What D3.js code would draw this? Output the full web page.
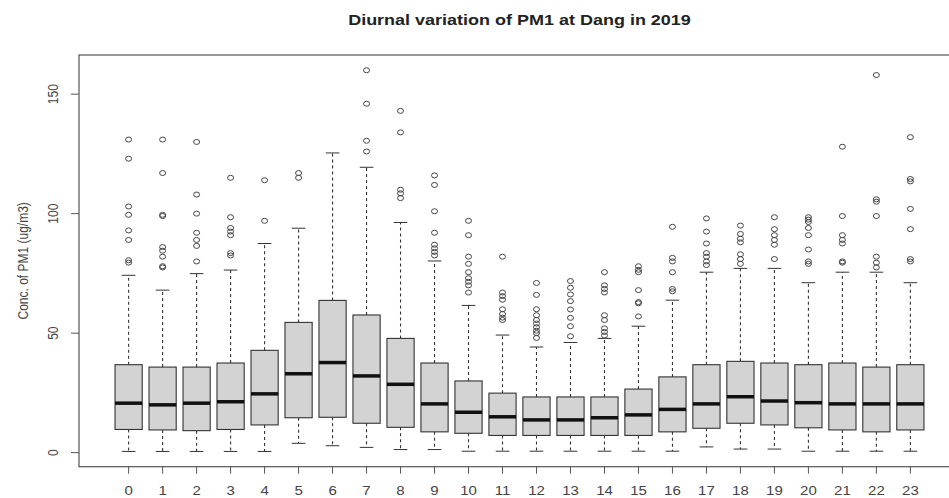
<!DOCTYPE html>
<html>
<head>
<meta charset="utf-8">
<script src="https://cdn.jsdelivr.net/npm/d3@7"></script>
<style>
  html, body { margin: 0; padding: 0; background: #fff; }
  svg { display: block; font-family: "Liberation Sans", Arial, sans-serif; }
</style>
</head>
<body>
<svg id="chart" width="949" height="498"></svg>
<script>
const hours = ["0","1","2","3","4","5","6","7","8","9","10","11","12","13","14","15","16","17","18","19","20","21","22","23"];
const lowerWhisker = [0.5,0.5,0.5,0.5,0.5,3.9,2.9,2.2,1.3,1.3,0.6,0.6,0.6,0.6,0.6,0.6,0.6,2.4,1.5,1.5,0.6,0.6,0.6,0.6];
const q1 = [9.7,9.5,9.2,9.7,11.6,14.6,14.8,12.3,10.6,8.7,8.1,7.2,7.2,7.2,7.2,7.2,8.7,10.2,12.3,11.6,10.4,9.5,8.7,9.5];
const medians = [20.7,20.0,20.7,21.3,24.6,33.0,37.7,32.1,28.6,20.4,16.9,15.0,13.7,13.7,14.6,15.8,18.1,20.4,23.4,21.6,20.9,20.4,20.4,20.4];
const q3 = [36.8,35.8,35.8,37.5,42.8,54.5,63.7,57.6,47.8,37.5,30.0,24.9,23.3,23.3,23.3,26.6,31.7,36.8,38.2,37.5,36.8,37.5,35.8,36.8];
const upperWhisker = [74.2,68.0,74.9,76.4,87.5,93.9,125.4,119.4,96.3,80.2,61.6,49.2,44.2,46.1,47.8,52.9,63.8,75.5,77.1,77.1,71.1,75.5,75.5,71.1];
const outliers = [
  [131,123,103,99.5,93,89,80.5,79.5],
  [131,117,99.5,99,86,84.5,82,78,77.5],
  [130,108,100,92,89,86.5,80],
  [115,98.5,94,92.5,91,83.5,82.5],
  [114,97],
  [117,115],
  [],
  [160,146,130.5,126],
  [143,134,110,108.5,106.5],
  [116,112,101,92,87,85.5,84,82.5],
  [97,91,82,79,75.5,73,71.5,70,67],
  [82,67,65.5,64,60,58,56.5,55.5],
  [71,66,60,57.5,55.5,54,52.5,51,50,48],
  [71.8,69,66.2,63.4,59.9,56.4,52.9,48.7],
  [75.5,70,68.5,67,57.5,55.5,52,50.5,49],
  [78,76.5,75.5,68,63,62.5,57],
  [94.5,81.5,80,75.5,68.5,67.5],
  [98,92.5,87.5,83.5,82,80,78.5],
  [95,91.5,89.5,88,83,81,79],
  [98.5,93.5,91,89,87,81],
  [98.5,97.5,96.5,94,91,85,80,79],
  [128,99,91,89,87.5,80,79.5],
  [158,106,105,99,82,79.5,77.5],
  [132,114.5,113.5,102,93.5,81,80]
];
const yTicks = [0, 50, 100, 150];
const titleText = "Diurnal variation of PM1 at Dang in 2019";
const yLabel = "Conc. of PM1 (ug/m3)";

const svg = d3.select("#chart");
const W = 949, H = 498;
const plot = { left: 79, right: 960, top: 55, bottom: 466.7 };
const sx = 1.25; // horizontal stretch of text in the reference

svg.append("rect").attr("width", W).attr("height", H).attr("fill", "#fff");

// R-style 4% extension of data range
const allVals = lowerWhisker.concat(upperWhisker, outliers.flat());
const lo = d3.min(allVals), hi = d3.max(allVals);
const ext = (hi - lo) * 0.04;
const y = d3.scaleLinear().domain([lo - ext, hi + ext]).range([plot.bottom, plot.top]);
const n = hours.length;
const x = d3.scaleLinear().domain([0.5 - 0.04 * n, n + 0.5 + 0.04 * n]).range([plot.left, plot.right]);
const bw = x(0.8) - x(0);

const g = svg.append("g");
const data = hours.map((h, i) => ({ h, i, pos: i + 1, lw: lowerWhisker[i], q1: q1[i], med: medians[i], q3: q3[i], uw: upperWhisker[i], out: outliers[i] }));

const boxes = g.selectAll("g.box").data(data).join("g").attr("class", "box");
// whiskers
boxes.append("line").attr("x1", d => x(d.pos)).attr("x2", d => x(d.pos))
  .attr("y1", d => y(d.q3)).attr("y2", d => y(d.uw))
  .attr("stroke", "#333").attr("stroke-width", 1.1).attr("stroke-dasharray", "3,3");
boxes.append("line").attr("x1", d => x(d.pos)).attr("x2", d => x(d.pos))
  .attr("y1", d => y(d.q1)).attr("y2", d => y(d.lw))
  .attr("stroke", "#333").attr("stroke-width", 1.1).attr("stroke-dasharray", "3,3");
// caps
boxes.append("line").attr("x1", d => x(d.pos) - bw / 4).attr("x2", d => x(d.pos) + bw / 4)
  .attr("y1", d => y(d.uw)).attr("y2", d => y(d.uw)).attr("stroke", "#333").attr("stroke-width", 1);
boxes.append("line").attr("x1", d => x(d.pos) - bw / 4).attr("x2", d => x(d.pos) + bw / 4)
  .attr("y1", d => y(d.lw)).attr("y2", d => y(d.lw)).attr("stroke", "#333").attr("stroke-width", 1);
// box
boxes.append("rect").attr("x", d => x(d.pos) - bw / 2).attr("width", bw)
  .attr("y", d => y(d.q3)).attr("height", d => y(d.q1) - y(d.q3))
  .attr("fill", "#d3d3d3").attr("stroke", "#333").attr("stroke-width", 1.1);
// median
boxes.append("line").attr("x1", d => x(d.pos) - bw / 2).attr("x2", d => x(d.pos) + bw / 2)
  .attr("y1", d => y(d.med)).attr("y2", d => y(d.med)).attr("stroke", "#111").attr("stroke-width", 3.5);
// outliers
boxes.selectAll("ellipse").data(d => d.out.map(v => ({ pos: d.pos, v }))).join("ellipse")
  .attr("cx", d => x(d.pos)).attr("cy", d => y(d.v)).attr("rx", 3).attr("ry", 2.5)
  .attr("fill", "none").attr("stroke", "#444").attr("stroke-width", 1);

// plot frame
svg.append("rect").attr("x", plot.left).attr("y", plot.top)
  .attr("width", plot.right - plot.left).attr("height", plot.bottom - plot.top)
  .attr("fill", "none").attr("stroke", "#555").attr("stroke-width", 1.2);

// y axis ticks & labels
const yAx = svg.append("g");
yAx.selectAll("line").data(yTicks).join("line")
  .attr("x1", plot.left - 8).attr("x2", plot.left).attr("y1", d => y(d)).attr("y2", d => y(d))
  .attr("stroke", "#555");
yAx.selectAll("text").data(yTicks).join("text")
  .attr("transform", d => `translate(58,${y(d)}) scale(${sx},1) rotate(-90)`)
  .attr("text-anchor", "middle").attr("font-size", 12).attr("fill", "#444").text(d => d);

// x axis ticks & labels
const xAx = svg.append("g");
xAx.selectAll("line").data(data).join("line")
  .attr("x1", d => x(d.pos)).attr("x2", d => x(d.pos)).attr("y1", plot.bottom).attr("y2", plot.bottom + 7)
  .attr("stroke", "#555");
xAx.selectAll("text").data(data).join("text")
  .attr("transform", d => `translate(${x(d.pos)},494.5) scale(${sx},1)`)
  .attr("text-anchor", "middle").attr("font-size", 12).attr("fill", "#444").text(d => d.h);

// title
svg.append("text")
  .attr("transform", `translate(${(plot.left + plot.right) / 2},25) scale(${sx},1)`)
  .attr("text-anchor", "middle").attr("font-size", 14.4).attr("font-weight", "bold").attr("fill", "#222")
  .text(titleText);

// y label
svg.append("text")
  .attr("transform", `translate(28,${(plot.top + plot.bottom) / 2}) scale(${sx},1) rotate(-90)`)
  .attr("text-anchor", "middle").attr("font-size", 12).attr("fill", "#444").text(yLabel);
</script>
</body>
</html>
